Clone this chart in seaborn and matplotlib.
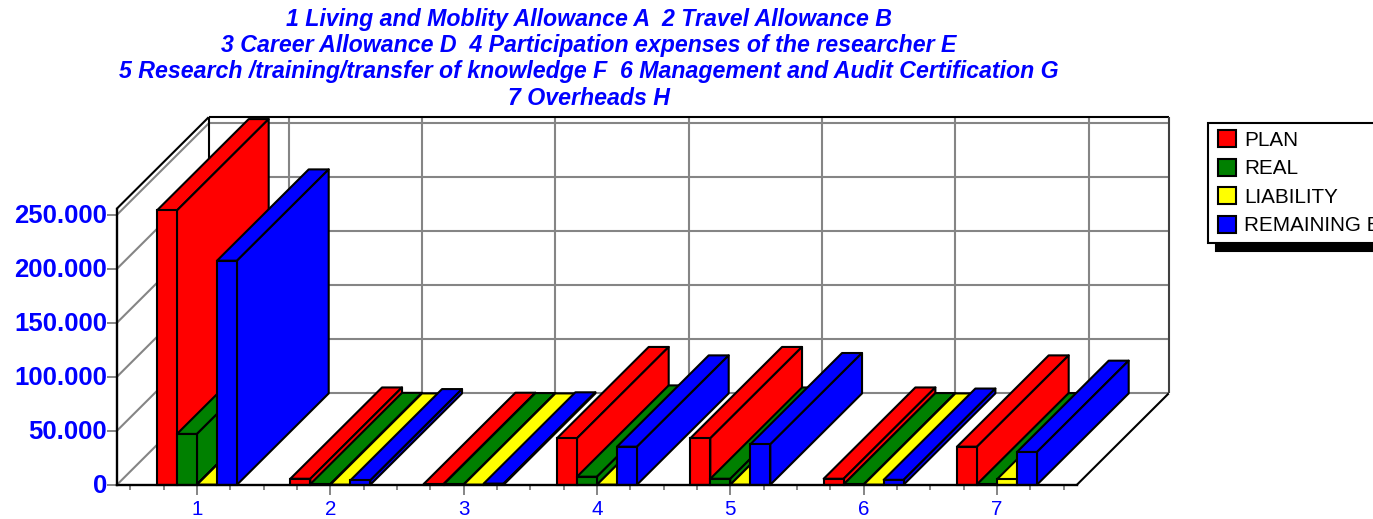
import matplotlib
matplotlib.use("Agg")
import matplotlib.pyplot as plt
from matplotlib.patches import Polygon
from matplotlib.transforms import ScaledTranslation
import pandas as pd
import seaborn as sns

# Values
categories = ["1", "2", "3", "4", "5", "6", "7"]
plan = [254000, 5500, 600, 43000, 43000, 5500, 35200]
real = [47000, 500, 300, 7400, 5500, 300, 300]
liability = [0, 0, 0, 0, 0, 0, 5000]
remaining = [207400, 4000, 1000, 35200, 37400, 4500, 30300]
series_names = ["PLAN", "REAL", "LIABILITY", "REMAINING BALANCE"]
series_colors = ["#ff0000", "#008000", "#ffff00", "#0000ff"]
y_ticks = [0, 50000, 100000, 150000, 200000, 250000]
y_labels = ["0", "50.000", "100.000", "150.000", "200.000", "250.000"]
title = ("1 Living and Moblity Allowance A  2 Travel Allowance B\n"
         "3 Career Allowance D  4 Participation expenses of the researcher E\n"
         "5 Research /training/transfer of knowledge F  6 Management and Audit Certification G\n"
         "7 Overheads H")

df = pd.DataFrame({
    "cat": categories * 4,
    "series": [s for s in series_names for _ in categories],
    "value": plan + real + liability + remaining,
})

sns.set_theme(style="white")
plt.rcParams["font.family"] = ["Liberation Sans", "DejaVu Sans"]

W, H = 1373, 519
fig = plt.figure(figsize=(W / 100, H / 100), dpi=100)
ax = fig.add_axes([117 / W, (H - 484.7) / H, 960 / W, 276.2 / H])

edge_lw = 1.5
sns.barplot(data=df, x="cat", y="value", hue="series", hue_order=series_names,
            palette=series_colors, width=0.6, gap=0, saturation=1,
            edgecolor="black", linewidth=edge_lw, ax=ax)
ax.set_xlim(-0.6, 6.6)
ax.set_ylim(0, 255740)
ax.set_xlabel("")
ax.set_ylabel("")

# depth of the fake 3d box, in data units
dx = 91.7 / (960 / 7.2)
dy = 91.3 / (54 / 50000)
x0, x1 = ax.get_xlim()
y0, y1 = ax.get_ylim()
grey = "#858585"


def wall_line(xs, ys, color=grey, lw=1.5, z=1):
    ax.plot(xs, ys, color=color, lw=lw, zorder=z, clip_on=False, solid_capstyle="butt")


# back wall and left wall grid
for t in y_ticks:
    wall_line([x0 + dx, x1 + dx], [t + dy, t + dy])
    wall_line([x0, x0 + dx], [t, t + dy])
for i in range(len(categories)):
    wall_line([i + dx, i + dx], [dy, y1 + dy])

# box outline
wall_line([x0 + dx, x0 + dx], [dy, y1 + dy], "black", z=1.5)
wall_line([x0, x0 + dx], [y1, y1 + dy], "black", z=1.5)
wall_line([x0 + dx, x1 + dx], [y1 + dy, y1 + dy], "black", z=1.5)
wall_line([x1 + dx, x1 + dx], [dy, y1 + dy], "#404040", z=1.5)
wall_line([x1, x1 + dx], [0, dy], "black", z=1.5)

# depth faces, bars painted left to right so later ones hide earlier ones
bars = sorted(ax.patches, key=lambda p: p.get_x())
z = 3
for p in bars:
    left = p.get_x()
    right = left + p.get_width()
    h = p.get_height()
    color = p.get_facecolor()
    top = Polygon([(left, h), (left + dx, h + dy), (right + dx, h + dy), (right, h)],
                  facecolor=color, edgecolor="black", lw=edge_lw, zorder=z, clip_on=False,
                  joinstyle="round")
    side = Polygon([(right, 0), (right + dx, dy), (right + dx, h + dy), (right, h)],
                   facecolor=color, edgecolor="black", lw=edge_lw, zorder=z, clip_on=False,
                   joinstyle="round")
    ax.add_patch(top)
    ax.add_patch(side)
    p.set_zorder(z + 0.5)
    p.set_clip_on(False)
    z += 1

for s in ["top", "right"]:
    ax.spines[s].set_visible(False)
for s in ["left", "bottom"]:
    ax.spines[s].set_color("black")
    ax.spines[s].set_linewidth(1.7)
ax.spines["bottom"].set_zorder(z + 1)
ax.patch.set_alpha(0)

ax.set_yticks(y_ticks)
ax.set_yticklabels(y_labels, color="#0000ff", fontweight="bold", fontsize=18.5)
ax.set_xticks(range(len(categories)))
ax.set_xticklabels(categories, color="#0000ff", fontsize=14.8)
ax.set_xticks([k * 0.25 - 0.5 for k in range(29) if k % 4 != 2], minor=True)
ax.tick_params(axis="y", left=True, length=7.2, width=1.4, color=grey, pad=0)
ax.tick_params(axis="x", which="major", bottom=True, length=7.2, width=1.4, color=grey, pad=3.5)
ax.tick_params(axis="x", which="minor", bottom=True, length=3.8, width=1.4, color=grey)

# y labels sit a little above their ticks in the original
lift = ScaledTranslation(0, 1.6 / 100, fig.dpi_scale_trans)
for lab in ax.get_yticklabels():
    lab.set_transform(lab.get_transform() + lift)

fig.text(588.5 / W, (H - 8) / H, title, ha="center", va="top", color="#0000ff",
         fontweight="bold", fontstyle="italic", fontsize=16.7, linespacing=1.18)

handles, labels = ax.get_legend_handles_labels()
leg = ax.legend(handles, labels, loc="upper left", bbox_to_anchor=(1208 / W, (H - 123) / H),
                bbox_transform=fig.transFigure, borderaxespad=0, fontsize=14.9,
                frameon=True, fancybox=False, edgecolor="black", framealpha=1,
                borderpad=0.36, labelspacing=0.43, handlelength=0.87, handleheight=0.87,
                handletextpad=0.52, labelcolor="black",
                shadow={"color": "black", "alpha": 1, "ox": 6, "oy": -6})
leg.get_frame().set_linewidth(1.5)
leg.set_zorder(z + 5)
for hd in leg.legend_handles:
    hd.set_x(hd.get_x() + 2.2 * 0.72)
    hd.set_linewidth(1.5)

fig.savefig("out.png", dpi=100)
